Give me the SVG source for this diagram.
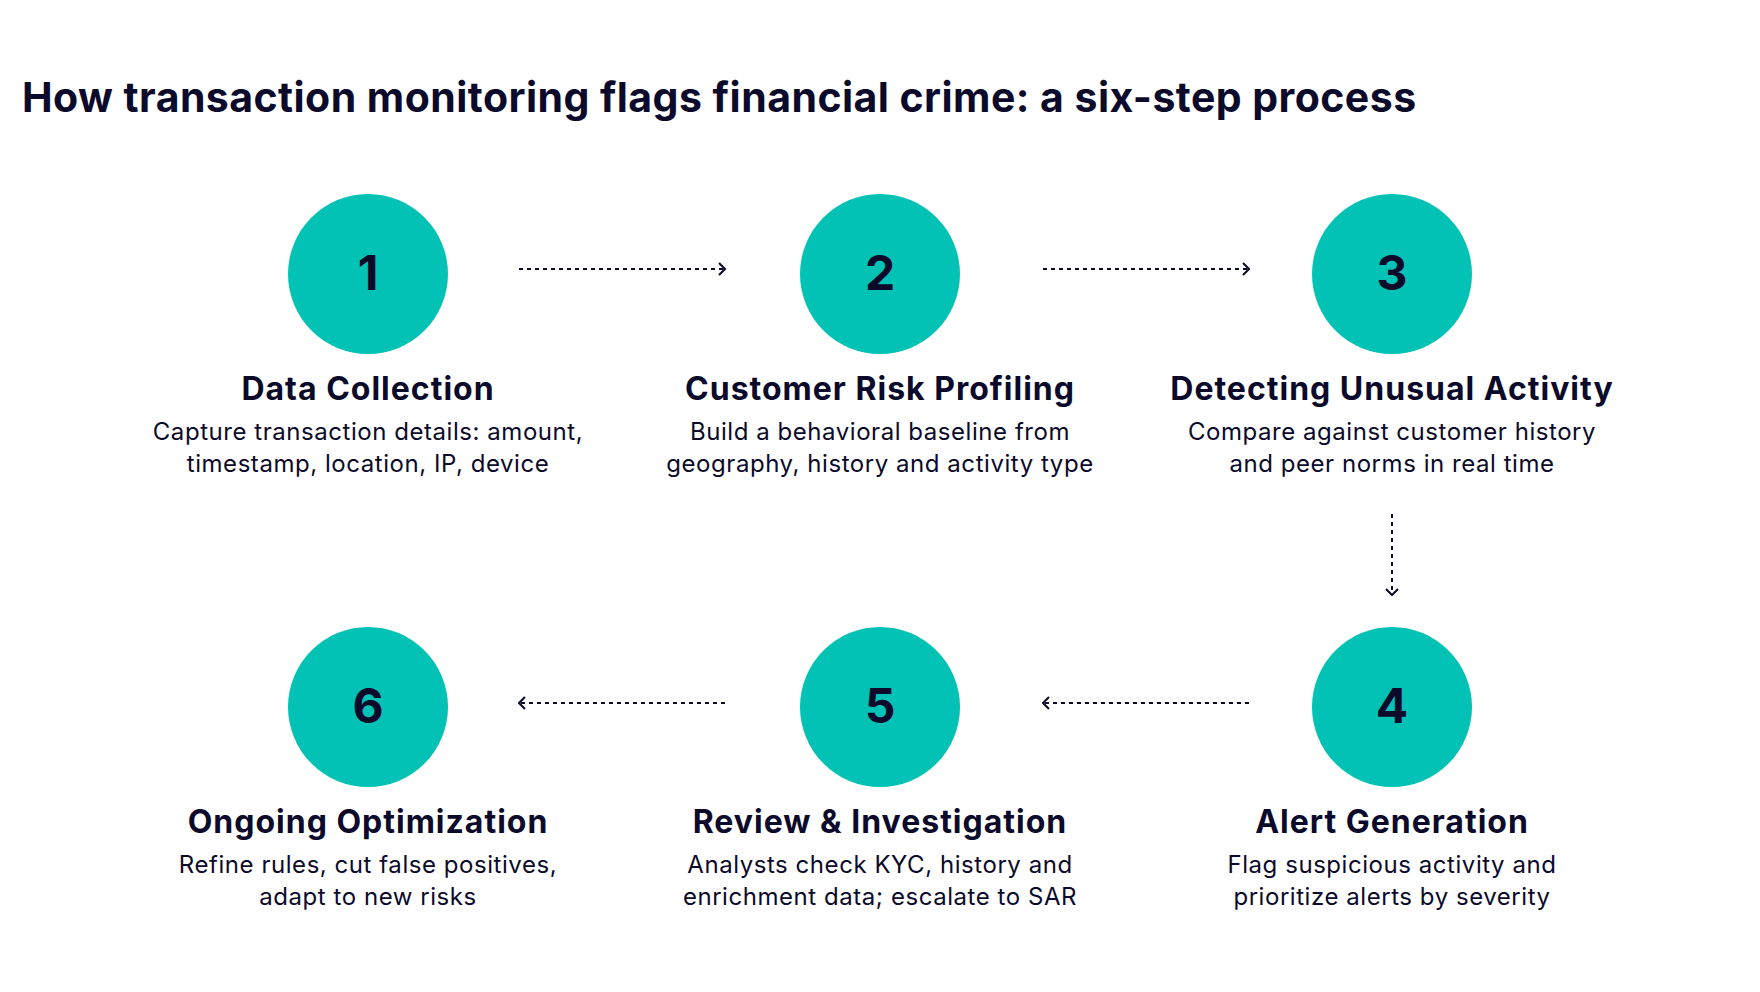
<svg xmlns="http://www.w3.org/2000/svg" width="1760" height="992" viewBox="0 0 1760 992">
<defs>
<style>
.bg{fill:#ffffff}
.circ{fill:#02C1B5}
.num{font-family:Inter,"Noto Sans",sans-serif;font-weight:700;font-size:48px;fill:#0B0A2A;text-anchor:middle}
.head{font-family:Inter,"Noto Sans",sans-serif;font-weight:700;font-size:32px;letter-spacing:1px;fill:#0B0A2A;text-anchor:middle}
.desc{font-family:Inter,"Noto Sans",sans-serif;font-weight:400;font-size:24px;letter-spacing:0.55px;fill:#0B0A2A;text-anchor:middle}
.title{font-family:Inter,"Noto Sans",sans-serif;font-weight:700;font-size:41px;letter-spacing:0.45px;fill:#0B0A2A}
.conn{stroke:#0B0A2A;stroke-width:2;fill:none;stroke-dasharray:4 4}
.head-arrow{stroke:#0B0A2A;stroke-width:2;fill:none}
</style>
<marker id="arr" viewBox="0 0 10 14" refX="9" refY="7" markerWidth="10" markerHeight="14" markerUnits="userSpaceOnUse" orient="auto">
<path d="M3,1 L9,7 L3,13" class="head-arrow"/>
</marker>
</defs>
<rect class="bg" x="0" y="0" width="1760" height="992"/>
<text class="title" x="22" y="112">How transaction monitoring flags financial crime: a six-step process</text>

<g id="connectors">
<line class="conn" x1="519" y1="269" x2="725" y2="269" marker-end="url(#arr)"/>
<line class="conn" x1="1043" y1="269" x2="1249" y2="269" marker-end="url(#arr)"/>
<line class="conn" x1="1392" y1="514" x2="1392" y2="595" marker-end="url(#arr)"/>
<line class="conn" x1="1249" y1="703" x2="1043" y2="703" marker-end="url(#arr)"/>
<line class="conn" x1="725" y1="703" x2="519" y2="703" marker-end="url(#arr)"/>
</g>

<g id="step1">
<circle class="circ" cx="368" cy="274" r="80"/>
<text class="num" x="368" y="290">1</text>
<text class="head" x="368" y="400">Data Collection</text>
<text class="desc" x="368" y="440">Capture transaction details: amount,</text>
<text class="desc" x="368" y="472">timestamp, location, IP, device</text>
</g>
<g id="step2">
<circle class="circ" cx="880" cy="274" r="80"/>
<text class="num" x="880" y="290">2</text>
<text class="head" x="880" y="400">Customer Risk Profiling</text>
<text class="desc" x="880" y="440">Build a behavioral baseline from</text>
<text class="desc" x="880" y="472">geography, history and activity type</text>
</g>
<g id="step3">
<circle class="circ" cx="1392" cy="274" r="80"/>
<text class="num" x="1392" y="290">3</text>
<text class="head" x="1392" y="400">Detecting Unusual Activity</text>
<text class="desc" x="1392" y="440">Compare against customer history</text>
<text class="desc" x="1392" y="472">and peer norms in real time</text>
</g>
<g id="step4">
<circle class="circ" cx="1392" cy="707" r="80"/>
<text class="num" x="1392" y="723">4</text>
<text class="head" x="1392" y="833">Alert Generation</text>
<text class="desc" x="1392" y="873">Flag suspicious activity and</text>
<text class="desc" x="1392" y="905">prioritize alerts by severity</text>
</g>
<g id="step5">
<circle class="circ" cx="880" cy="707" r="80"/>
<text class="num" x="880" y="723">5</text>
<text class="head" x="880" y="833">Review &amp; Investigation</text>
<text class="desc" x="880" y="873">Analysts check KYC, history and</text>
<text class="desc" x="880" y="905">enrichment data; escalate to SAR</text>
</g>
<g id="step6">
<circle class="circ" cx="368" cy="707" r="80"/>
<text class="num" x="368" y="723">6</text>
<text class="head" x="368" y="833">Ongoing Optimization</text>
<text class="desc" x="368" y="873">Refine rules, cut false positives,</text>
<text class="desc" x="368" y="905">adapt to new risks</text>
</g>
</svg>
